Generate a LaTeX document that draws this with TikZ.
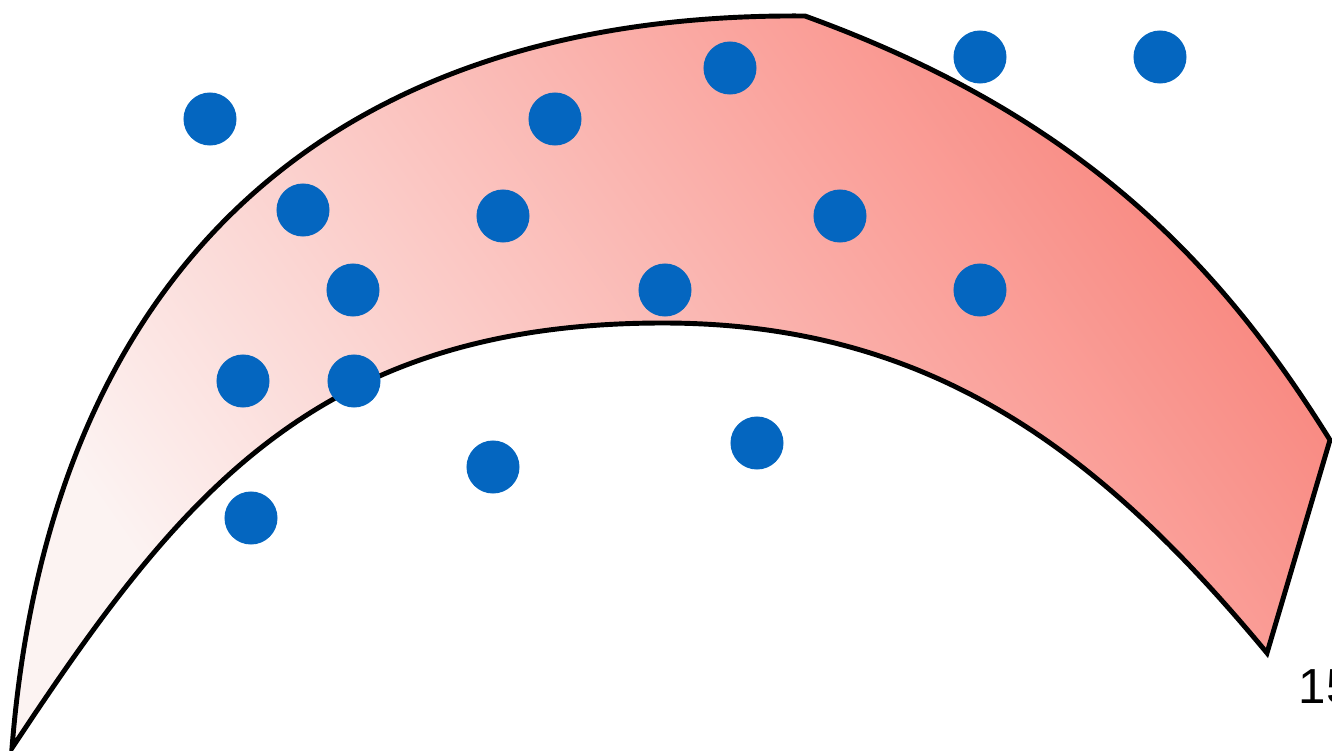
\documentclass[tikz,border=0pt]{standalone}
\usepackage{fontspec}
\newfontfamily\labelfont{Liberation Sans}
\usepackage{tikz}
\definecolor{dotblue}{RGB}{4,102,192}
\definecolor{salmon}{RGB}{249,136,128}
\definecolor{palepink}{RGB}{252,243,242}
\begin{document}
\begin{tikzpicture}[
    x=0.01cm, y=-0.01cm,
    band/.style={draw=black, line width=1.4pt, line join=miter,
                 bottom color=palepink, top color=salmon, shading angle=-55},
    sample/.style={fill=dotblue}
]
\useasboundingbox (0,0) rectangle (1332,751);

% Crescent band
\coordinate (tipL) at (12,748);
\coordinate (kink) at (805,16);
\coordinate (tipR) at (1330,440);
\coordinate (tipB) at (1267,653);
\coordinate (inTop) at (663,323);
\path[band] (tipL) .. controls (50,270) and (330,12) .. (kink)
    .. controls (1087,118) and (1224,270) .. (tipR)
    -- (tipB)
    .. controls (1101,453) and (933,323) .. (inTop)
    .. controls (313,323) and (177,499) .. (tipL)
    -- cycle;

% Samples
\foreach \x/\y in {210/119, 555/119, 730/68, 980/57, 1160/57,
                   303/210, 503/216, 840/216,
                   353/290, 665/290, 980/290,
                   243/381, 354/381, 757/443, 493/467, 251/518}
    \fill[sample] (\x,\y) circle (0.265cm);

% Page number
\node[anchor=base west, inner sep=0pt, font=\labelfont\fontsize{14}{16}\selectfont] (pagenum) at (1298,703) {15};

\end{tikzpicture}
\end{document}
